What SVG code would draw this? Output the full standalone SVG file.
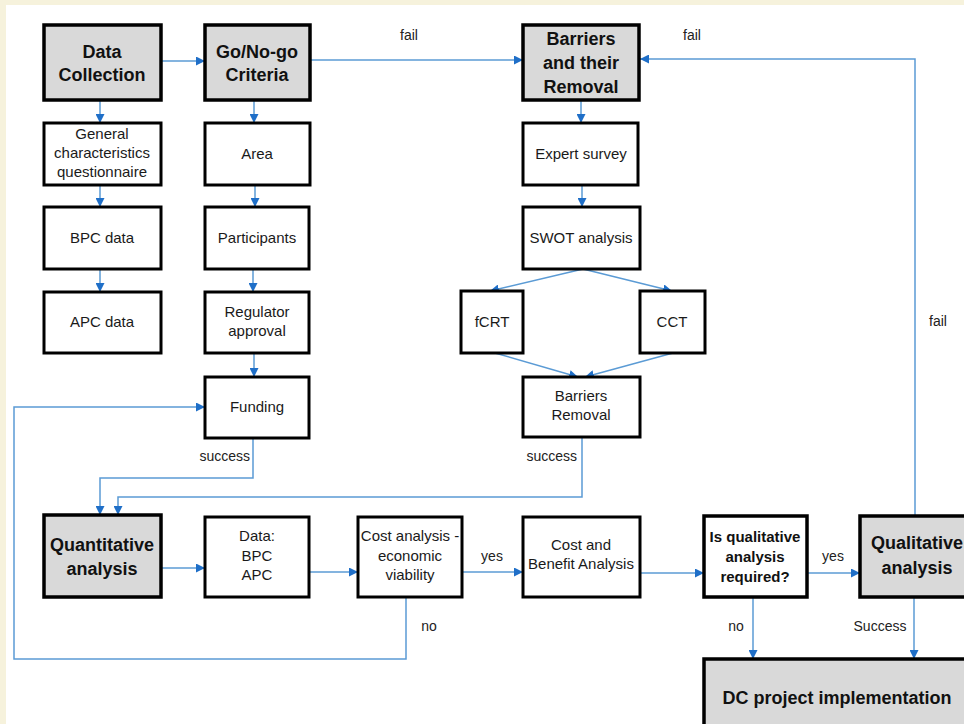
<svg xmlns="http://www.w3.org/2000/svg" width="964" height="724" viewBox="0 0 964 724">
<defs>
<marker id="ah" viewBox="0 0 10 10" refX="10" refY="5" markerWidth="9" markerHeight="9" markerUnits="userSpaceOnUse" orient="auto">
<path d="M0,0 L10,5 L0,10 z" fill="#1f6fc8"/>
</marker>
<style>
.box{fill:#fff;stroke:#000;stroke-width:3}
.hd{fill:#d9d9d9;stroke:#000;stroke-width:3.5}
.t{font-family:"Liberation Sans",Arial,sans-serif;font-size:15px;fill:#1a1a1a;text-anchor:middle}
.b{font-family:"Liberation Sans",Arial,sans-serif;font-size:18px;font-weight:bold;fill:#111;text-anchor:middle}
.q{font-family:"Liberation Sans",Arial,sans-serif;font-size:15px;font-weight:bold;fill:#111;text-anchor:middle}
.lb{font-family:"Liberation Sans",Arial,sans-serif;font-size:14px;fill:#222}
.c{fill:none;stroke:#5b9bd5;stroke-width:1.5;marker-end:url(#ah)}
.cn{fill:none;stroke:#5b9bd5;stroke-width:1.5}
</style>
</defs>
<rect x="0" y="0" width="964" height="724" fill="#f6f2dc"/>
<rect x="6" y="5" width="958" height="719" fill="#ffffff"/>

<g id="connectors">
<path class="c" d="M161,61 H205"/>
<path class="c" d="M310,60 H523"/>
<path class="c" d="M915,516 V59 H640"/>
<path class="c" d="M100,100 V123"/>
<path class="c" d="M100,185 V207"/>
<path class="c" d="M100,269 V292"/>
<path class="c" d="M254,100 V123"/>
<path class="c" d="M255,185 V207"/>
<path class="c" d="M253,269 V292"/>
<path class="c" d="M254,353 V377"/>
<path class="c" d="M581,100 V123"/>
<path class="c" d="M582,185 V207"/>
<path class="c" d="M583,269 L490,291"/>
<path class="c" d="M583,269 L672,291"/>
<path class="c" d="M495,353 L578,377"/>
<path class="c" d="M673,353 L585,377"/>
<path class="c" d="M253,438 V478 H100 V515"/>
<path class="c" d="M582,437 V497 H118 V515"/>
<path class="c" d="M161,568 H205"/>
<path class="c" d="M309,572 H358"/>
<path class="c" d="M462,572 H523"/>
<path class="c" d="M640,573 H704"/>
<path class="c" d="M807,573 H860"/>
<path class="c" d="M406,597 V659 H14 V407 H205"/>
<path class="c" d="M753,597 V659"/>
<path class="c" d="M914,597 V659"/>
<text class="lb" x="400" y="40">fail</text>
<text class="lb" x="683" y="40">fail</text>
<text class="lb" x="929" y="326">fail</text>
<text class="lb" x="250" y="461" text-anchor="end">success</text>
<text class="lb" x="577" y="461" text-anchor="end">success</text>
<text class="lb" x="429" y="631" text-anchor="middle">no</text>
<text class="lb" x="492" y="561" text-anchor="middle">yes</text>
<text class="lb" x="833" y="561" text-anchor="middle">yes</text>
<text class="lb" x="736" y="631" text-anchor="middle">no</text>
<text class="lb" x="880" y="631" text-anchor="middle">Success</text>
</g>

<g id="data-collection"><rect class="hd" x="44" y="25" width="117" height="75"/><text class="b" x="102" y="58">Data</text><text class="b" x="102" y="81">Collection</text></g>
<g id="go-no-go"><rect class="hd" x="205" y="25" width="105" height="75"/><text class="b" x="257" y="58">Go/No-go</text><text class="b" x="257" y="81">Criteria</text></g>
<g id="barriers"><rect class="hd" x="523" y="25" width="116" height="75"/><text class="b" x="581" y="45">Barriers</text><text class="b" x="581" y="69">and their</text><text class="b" x="581" y="93">Removal</text></g>
<g id="general"><rect class="box" x="44" y="123" width="117" height="62"/><text class="t" x="102" y="139">General</text><text class="t" x="102" y="158">characteristics</text><text class="t" x="102" y="177">questionnaire</text></g>
<g id="area"><rect class="box" x="205" y="123" width="105" height="62"/><text class="t" x="257" y="159">Area</text></g>
<g id="expert"><rect class="box" x="523" y="123" width="115" height="62"/><text class="t" x="581" y="159">Expert survey</text></g>
<g id="bpc"><rect class="box" x="44" y="207" width="117" height="62"/><text class="t" x="102" y="243">BPC data</text></g>
<g id="participants"><rect class="box" x="205" y="207" width="104" height="62"/><text class="t" x="257" y="243">Participants</text></g>
<g id="swot"><rect class="box" x="523" y="207" width="117" height="62"/><text class="t" x="581" y="243">SWOT analysis</text></g>
<g id="apc"><rect class="box" x="44" y="292" width="117" height="61"/><text class="t" x="102" y="327">APC data</text></g>
<g id="regulator"><rect class="box" x="205" y="292" width="104" height="61"/><text class="t" x="257" y="317">Regulator</text><text class="t" x="257" y="336">approval</text></g>
<g id="fcrt"><rect class="box" x="461" y="291" width="62" height="62"/><text class="t" x="492" y="327">fCRT</text></g>
<g id="cct"><rect class="box" x="640" y="291" width="65" height="62"/><text class="t" x="672" y="327">CCT</text></g>
<g id="funding"><rect class="box" x="205" y="377" width="104" height="61"/><text class="t" x="257" y="412">Funding</text></g>
<g id="barriers-removal"><rect class="box" x="523" y="377" width="117" height="60"/><text class="t" x="581" y="401">Barriers</text><text class="t" x="581" y="420">Removal</text></g>
<g id="quantitative"><rect class="hd" x="44" y="515" width="117" height="82"/><text class="b" x="102" y="551">Quantitative</text><text class="b" x="102" y="575">analysis</text></g>
<g id="data"><rect class="box" x="205" y="517" width="104" height="80"/><text class="t" x="257" y="541">Data:</text><text class="t" x="257" y="561">BPC</text><text class="t" x="257" y="580">APC</text></g>
<g id="cost-analysis"><rect class="box" x="358" y="517" width="104" height="80"/><text class="t" x="410" y="541">Cost analysis -</text><text class="t" x="410" y="561">economic</text><text class="t" x="410" y="580">viability</text></g>
<g id="cost-benefit"><rect class="box" x="523" y="517" width="117" height="80"/><text class="t" x="581" y="550">Cost and</text><text class="t" x="581" y="569">Benefit Analysis</text></g>
<g id="is-qualitative"><rect class="box" x="704" y="516" width="103" height="81" style="stroke-width:3.5"/><text class="q" x="755" y="542">Is qualitative</text><text class="q" x="755" y="562">analysis</text><text class="q" x="755" y="582">required?</text></g>
<g id="qualitative"><rect class="hd" x="860" y="516" width="115" height="81"/><text class="b" x="917" y="549">Qualitative</text><text class="b" x="917" y="574">analysis</text></g>
<g id="dc-project"><rect class="hd" x="704" y="659" width="272" height="80"/><text class="b" x="837" y="704">DC project implementation</text></g>
</svg>
